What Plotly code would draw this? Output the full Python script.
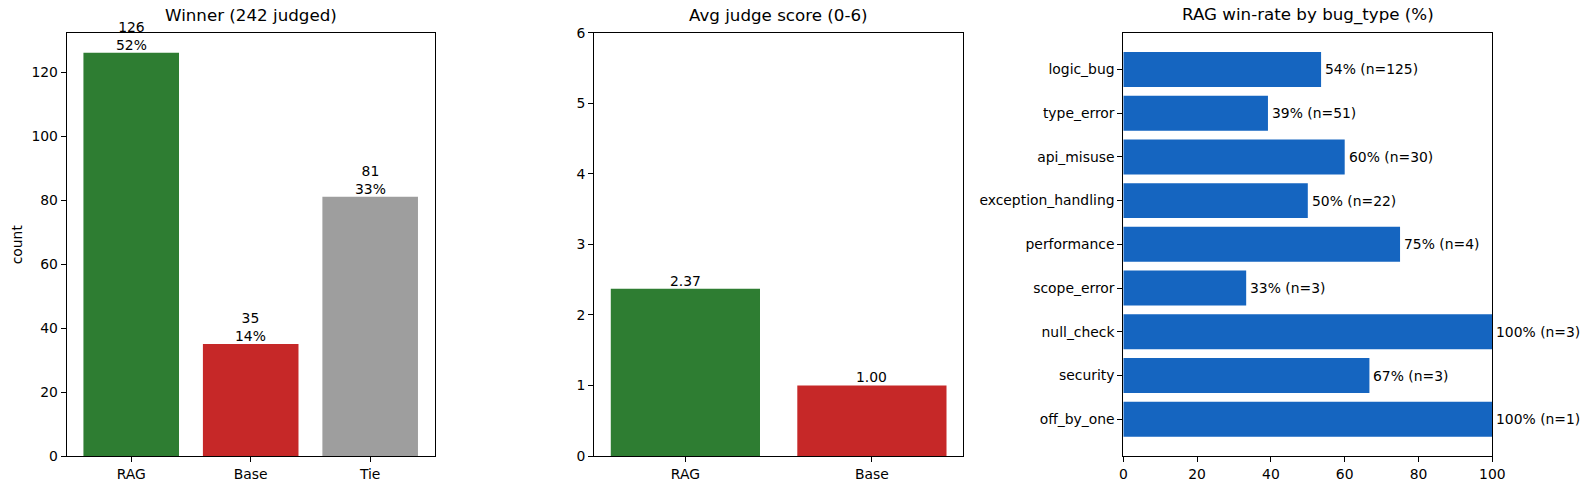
import plotly.graph_objects as go

# ---- data ----
winner_cats = ["RAG", "Base", "Tie"]
winner_counts = [126, 35, 81]
winner_total = 242
winner_colors = ["#2e7d32", "#c62828", "#9e9e9e"]

score_cats = ["RAG", "Base"]
score_vals = [2.37, 1.00]
score_colors = ["#2e7d32", "#c62828"]

bug_types = ["logic_bug", "type_error", "api_misuse", "exception_handling",
             "performance", "scope_error", "null_check", "security", "off_by_one"]
bug_winrate = [53.6, 39.2, 60.0, 50.0, 75.0, 33.3, 100.0, 66.7, 100.0]
bug_n = [125, 51, 30, 22, 4, 3, 3, 3, 1]
bug_color = "#1565c0"

W, H = 1589, 490
FONT = "DejaVu Sans"
TICK = 13.9
TITLE = 16.7

def px_x(p):
    return p / W

def px_y(p):
    return 1 - p / H

y_dom = [px_y(456), px_y(32.7)]
d1 = [px_x(66.7), px_x(434.7)]
d2 = [px_x(594), px_x(963.3)]
d3 = [px_x(1123.3), px_x(1492.3)]

fig = go.Figure()
fig.add_trace(go.Bar(x=winner_cats, y=winner_counts, marker_color=winner_colors,
                     width=0.8, xaxis="x", yaxis="y", showlegend=False,
                     marker_line_width=0))
fig.add_trace(go.Bar(x=score_cats, y=score_vals, marker_color=score_colors,
                     width=0.8, xaxis="x2", yaxis="y2", showlegend=False,
                     marker_line_width=0))
fig.add_trace(go.Bar(x=bug_winrate, y=bug_types, orientation="h",
                     marker_color=bug_color, width=0.8, xaxis="x3", yaxis="y3",
                     showlegend=False, marker_line_width=0))

annotations = []
for c, v in zip(winner_cats, winner_counts):
    annotations.append(dict(x=c, y=v, xref="x", yref="y",
                            text=f"{v}<br>{v / winner_total * 100:.0f}%",
                            showarrow=False, yanchor="bottom", xanchor="center",
                            font=dict(size=TICK, color="black", family=FONT),
                            yshift=-2))
for c, v in zip(score_cats, score_vals):
    annotations.append(dict(x=c, y=v, xref="x2", yref="y2", text=f"{v:.2f}",
                            showarrow=False, yanchor="bottom", xanchor="center",
                            font=dict(size=TICK, color="black", family=FONT),
                            yshift=-2))
for c, v, n in zip(bug_types, bug_winrate, bug_n):
    annotations.append(dict(x=v, y=c, xref="x3", yref="y3",
                            text=f"{v:.0f}% (n={n})",
                            showarrow=False, yanchor="middle", xanchor="left",
                            xshift=2,
                            font=dict(size=TICK, color="black", family=FONT)))

titles = [("Winner (242 judged)", d1), ("Avg judge score (0-6)", d2),
          ("RAG win-rate by bug_type (%)", d3)]
for t, d in titles:
    annotations.append(dict(x=(d[0] + d[1]) / 2, y=y_dom[1] + 6 / H,
                            xref="paper", yref="paper", text=t, showarrow=False,
                            xanchor="center", yanchor="bottom",
                            font=dict(size=TITLE, color="black", family=FONT)))
annotations.append(dict(x=px_x(17), y=(y_dom[0] + y_dom[1]) / 2, xref="paper",
                        yref="paper", text="count", textangle=-90,
                        showarrow=False, xanchor="center", yanchor="middle",
                        font=dict(size=TICK, color="black", family=FONT)))

axis_common = dict(showline=True, linecolor="black", linewidth=1, mirror=True,
                   ticks="outside", ticklen=5, tickcolor="black", tickwidth=1,
                   showgrid=False, zeroline=False, automargin=False,
                   tickfont=dict(size=TICK, color="black", family=FONT))

fig.update_layout(
    width=W, height=H,
    margin=dict(l=0, r=0, t=0, b=0, pad=0, autoexpand=False),
    paper_bgcolor="white", plot_bgcolor="white",
    font=dict(family=FONT, color="black"),
    xaxis=dict(domain=d1, anchor="y", type="category", range=[-0.54, 2.54], **axis_common),
    yaxis=dict(domain=y_dom, anchor="x", range=[0, 132.3], dtick=20, tick0=0, **axis_common),
    xaxis2=dict(domain=d2, anchor="y2", type="category", range=[-0.49, 1.49], **axis_common),
    yaxis2=dict(domain=y_dom, anchor="x2", range=[0, 6], dtick=1, tick0=0, **axis_common),
    xaxis3=dict(domain=d3, anchor="y3", range=[0, 100], dtick=20, tick0=0, **axis_common),
    yaxis3=dict(domain=y_dom, anchor="x3", type="category", categoryorder="array",
                categoryarray=bug_types, range=[8.84, -0.84], **axis_common),
    annotations=annotations,
)

fig.write_html("out.html")
